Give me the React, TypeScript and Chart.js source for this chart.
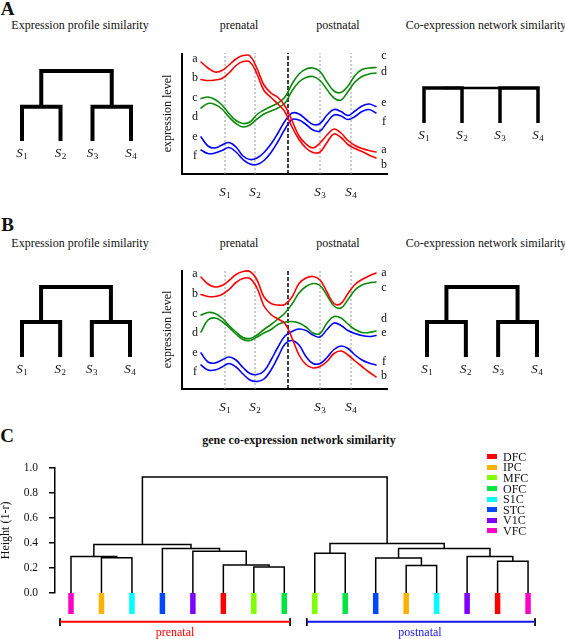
import React, { useEffect, useRef } from "react";
import { Chart, registerables } from "chart.js";

Chart.register(...registerables);

const SERIF = '"Liberation Serif", "Times New Roman", Times, serif';

// ---------------- Panels A / B : expression curves ----------------
const timePoints = [19, 26, 33, 40, 47, 54, 61, 68, 75, 82, 89, 96, 103, 110, 117, 124, 131, 138, 145, 152, 159, 166, 173, 180, 187, 194];
const sampleTimes = [43, 73, 138, 169];
const birthTime = 106;
const timeMax = 206;

const geneNames = ["a", "b", "c", "d", "e", "f"];

const curveA_a = [112, 106, 102, 103.5, 109, 115, 118.5, 118, 105.5, 89, 81, 76.5, 68, 53.5, 38, 30, 26, 31, 39, 45, 41, 33.5, 28.5, 25.5, 23.5, 22];
const curveA_b = [94.5, 93.5, 94, 95.5, 101, 108.5, 112.5, 112, 100, 83.5, 76.5, 70, 62, 47, 34.5, 26, 21.5, 22, 31.5, 40, 36.5, 29.5, 25.5, 22.5, 19, 16];
const curveA_c = [75.5, 77, 74.5, 69, 60.5, 53.5, 50.5, 52, 59.5, 64, 67.5, 71, 77, 90, 100, 105, 106, 102.5, 92, 83, 81.5, 88, 98.5, 104.5, 106, 106.5];
const curveA_d = [66, 70.5, 69.5, 65, 57, 50.5, 47, 49, 55, 60, 63, 66, 71, 83, 92, 96.5, 97.5, 93.5, 84.5, 76, 74, 82.5, 92, 97.5, 100, 101];
const curveA_e = [37, 28, 26, 29, 31.5, 27, 18, 14.5, 16, 21.5, 30, 41, 53, 61, 60, 54.5, 49.5, 50.5, 59, 64.5, 62.5, 58.5, 63, 68, 70, 67.5];
const curveA_f = [24, 20.5, 21, 23.5, 26.5, 22, 14.5, 10, 9.5, 13.5, 21.5, 32.5, 45, 54.5, 54, 49.5, 44, 43, 51.5, 59, 58, 54.5, 57.5, 62.5, 64.5, 61];

const curveB_a = [112, 105, 102, 103.5, 108.5, 114.5, 117.5, 117.5, 109, 92, 85.5, 84, 84.5, 92, 105.5, 111, 112.5, 109, 97, 85.5, 85.5, 95.5, 104.5, 109.5, 113, 116];
const curveB_b = [94.5, 92.5, 92.5, 94.5, 99.5, 106.5, 110.5, 110.5, 101, 83, 74.5, 70, 65.5, 51, 34, 24.5, 21, 22.5, 27.5, 35.5, 38, 34, 28, 22.5, 17, 12];
const curveB_c = [74, 76.5, 75.5, 71, 63.5, 57, 51.5, 50.5, 54, 59.5, 64.5, 70, 76, 85, 96, 102.5, 105.5, 103.5, 93.5, 83, 81, 89.5, 99, 104, 106, 107];
const curveB_d = [57, 69, 71, 67.5, 61.5, 55, 49.5, 48.5, 52, 56, 59.5, 64.5, 67, 67.5, 66, 62, 56, 55.5, 66, 72.5, 71, 65, 59.5, 56.5, 56.5, 58];
const curveB_e = [36, 27, 26, 29, 32, 29, 21.5, 15.5, 14.5, 18, 29, 42, 53, 57.5, 60, 58.5, 54, 52, 59.5, 66, 63.5, 58.5, 55.5, 53.5, 52.5, 53.5];
const curveB_f = [24, 19, 19, 22, 25.5, 22, 15, 9, 7.5, 10, 19, 32, 45, 48.5, 44, 32.5, 25.5, 25.5, 31.5, 39.5, 43, 40.5, 34, 29, 26, 24];

// levels at which the gene letters a..f are written, left and right of the plot
const labelTimes = [13, 202];
const labelsA_left = [115, 96, 76, 57, 37, 18];
const labelsA_right = [24, 9, 118, 102, 71, 52];
const labelsB_left = [115.5, 95, 75, 56, 36.5, 17];
const labelsB_right = [116.5, 13.5, 101.5, 70.5, 56.5, 27.5];

// ---------------- Panels A / B : small dendrograms ----------------
const profileLeafPos = [1, 2.06, 2.94, 4];
const evenLeafPos = [1, 2, 3, 4];
const mergesA_profile = [[-1, -2, 1], [-3, -4, 1], [1, 2, 2.05]];
const mergesA_network = [[-1, -2, 1], [-3, -4, 1], [1, 2, 1]];
const mergesB_profile = [[-1, -2, 1], [-3, -4, 1], [1, 2, 2]];
const mergesB_network = [[-1, -2, 1], [-3, -4, 1], [1, 2, 2]];

// ---------------- Panel C ----------------
const regionNames = ["DFC", "IPC", "MFC", "OFC", "S1C", "STC", "V1C", "VFC"];
const regionColors = ["#ff0000", "#ffb300", "#80ff00", "#00e640", "#00ffff", "#0047ff", "#8000ff", "#ff00c8"];
const prenatalOrder = ["VFC", "IPC", "S1C", "STC", "V1C", "DFC", "MFC", "OFC"];
const postnatalOrder = ["MFC", "OFC", "STC", "IPC", "S1C", "V1C", "DFC", "VFC"];
// hclust-style merges: negative = leaf number, positive = earlier merge number; third = height (1-r)
const mergesC = [
  [-7, -8, 0.208],
  [-6, 1, 0.223],
  [-2, -3, 0.282],
  [-1, 3, 0.292],
  [-5, 2, 0.333],
  [-4, 5, 0.356],
  [4, 6, 0.387],
  [-12, -13, 0.22],
  [-15, -16, 0.254],
  [-11, 8, 0.28],
  [-14, 9, 0.292],
  [-9, -10, 0.318],
  [10, 11, 0.356],
  [12, 13, 0.395],
  [7, 14, 0.928],
];
const heightTicks = [0, 0.2, 0.4, 0.6, 0.8, 1.0];
const groupNames = ["prenatal", "postnatal"];
const groupColors = ["#ff0000", "#1515e6"];
const groupSpans = [[0.64, 8.19], [8.74, 16.23]];

const RED = "#ff0000";
const GREEN = "#0b8a0b";
const BLUE = "#0000ff";
const geneColors = [RED, RED, GREEN, GREEN, BLUE, BLUE];

// ---------------- helpers ----------------
type Rect = { left: number; right: number; top: number; bottom: number };
type Pad = { l: number; r: number; t: number; b: number };

function areaBox(rect: Rect, pad: Pad) {
  return {
    left: rect.left - pad.l,
    top: rect.top - pad.t,
    width: rect.right - rect.left + pad.l + pad.r,
    height: rect.bottom - rect.top + pad.t + pad.b,
    padding: { left: pad.l, right: pad.r, top: pad.t, bottom: pad.b },
  };
}

function baseOptions(padding: any, xMin: number, xMax: number, yMin: number, yMax: number) {
  return {
    responsive: false,
    animation: false,
    devicePixelRatio: 1,
    events: [],
    layout: { padding },
    plugins: { legend: { display: false }, tooltip: { enabled: false }, title: { display: false } },
    elements: {
      point: { radius: 0, hoverRadius: 0 },
      line: { tension: 0, borderCapStyle: "butt", borderJoinStyle: "miter", fill: false },
    },
    scales: {
      x: { type: "linear", display: false, min: xMin, max: xMax },
      y: { type: "linear", display: false, min: yMin, max: yMax },
    },
  };
}

const lineSet = (pts: any[], color: string, width: number, extra: any = {}) => ({
  data: pts,
  borderColor: color,
  borderWidth: width,
  pointRadius: 0,
  clip: false,
  tension: 0,
  fill: false,
  ...extra,
});

function dendroSegments(leafPos: number[], merges: number[][]) {
  const pos: number[] = [];
  const hts: number[] = [];
  const segs: { x: number; y: number }[][] = [];
  const child = (c: number) => (c < 0 ? { x: leafPos[-c - 1], h: 0 } : { x: pos[c - 1], h: hts[c - 1] });
  merges.forEach(([a, b, h]) => {
    const A = child(a);
    const B = child(b);
    segs.push([
      { x: A.x, y: A.h },
      { x: A.x, y: h },
      { x: B.x, y: h },
      { x: B.x, y: B.h },
    ]);
    pos.push((A.x + B.x) / 2);
    hts.push(h);
  });
  return segs;
}

function drawSLabel(ctx: CanvasRenderingContext2D, cx: number, cy: number, n: number) {
  ctx.save();
  ctx.fillStyle = "#111";
  ctx.textBaseline = "middle";
  ctx.textAlign = "left";
  ctx.font = `italic 13px ${SERIF}`;
  const w1 = ctx.measureText("S").width;
  ctx.font = `9px ${SERIF}`;
  const w2 = ctx.measureText(String(n)).width;
  const x0 = cx - (w1 + w2 + 0.5) / 2;
  ctx.font = `italic 13px ${SERIF}`;
  ctx.fillText("S", x0, cy);
  ctx.font = `9px ${SERIF}`;
  ctx.fillText(String(n), x0 + w1 + 0.5, cy + 3.5);
  ctx.restore();
}

function ChartBox({ box, make }: { box: any; make: () => any }) {
  const ref = useRef<HTMLCanvasElement | null>(null);
  useEffect(() => {
    if (!ref.current) return;
    const chart = new Chart(ref.current, make());
    return () => chart.destroy();
  }, []);
  return (
    <canvas
      ref={ref}
      width={box.width}
      height={box.height}
      style={{ position: "absolute", left: box.left, top: box.top, width: box.width, height: box.height }}
    />
  );
}

function DendroChart({ rect, leafPos, merges, yMax, width, topWidth }: any) {
  const box = areaBox(rect, { l: 10, r: 10, t: 6, b: 24 });
  const make = () => {
    const segs = dendroSegments(leafPos, merges);
    const datasets = segs.map((s, i) =>
      lineSet(s, "#000", i === segs.length - 1 && topWidth ? topWidth : width)
    );
    const labelPlugin = {
      id: "leafLabels",
      afterDraw(chart: any) {
        const { ctx, scales } = chart;
        leafPos.forEach((p: number, i: number) => {
          drawSLabel(ctx, scales.x.getPixelForValue(p), scales.y.getPixelForValue(0) + 12.5, i + 1);
        });
      },
    };
    return {
      type: "line",
      data: { datasets },
      options: baseOptions(box.padding, leafPos[0], leafPos[leafPos.length - 1], 0, yMax),
      plugins: [labelPlugin],
    };
  };
  return <ChartBox box={box} make={make} />;
}

function CurveChart({ rect, yMax, curves, leftLevels, rightLevels }: any) {
  const box = areaBox(rect, { l: 30, r: 15, t: 10, b: 30 });
  const make = () => {
    const datasets: any[] = [];
    curves.forEach((c: number[], i: number) => {
      datasets.push(
        lineSet(timePoints.map((t, k) => ({ x: t, y: c[k] })), geneColors[i], 1.6, {
          tension: 0.4,
          borderCapStyle: "round",
          borderJoinStyle: "round",
        })
      );
    });
    datasets.push(lineSet([{ x: birthTime, y: 0 }, { x: birthTime, y: yMax }], "#000", 1.5, { borderDash: [4, 2] }));
    sampleTimes.forEach((s) => {
      datasets.push(lineSet([{ x: s, y: 0 }, { x: s, y: yMax }], "#9a9a9a", 1, { borderDash: [2, 2] }));
    });
    datasets.push(lineSet([{ x: 0, y: yMax }, { x: 0, y: 0 }, { x: timeMax, y: 0 }], "#000", 2));
    const textPlugin = {
      id: "curveText",
      afterDraw(chart: any) {
        const { ctx, scales, chartArea } = chart;
        ctx.save();
        ctx.fillStyle = "#111";
        ctx.font = `12px ${SERIF}`;
        ctx.textAlign = "center";
        ctx.textBaseline = "middle";
        geneNames.forEach((g, i) => {
          ctx.fillText(g, scales.x.getPixelForValue(labelTimes[0]), scales.y.getPixelForValue(leftLevels[i]));
          ctx.fillText(g, scales.x.getPixelForValue(labelTimes[1]), scales.y.getPixelForValue(rightLevels[i]));
        });
        ctx.translate(chartArea.left - 14, (chartArea.top + chartArea.bottom) / 2);
        ctx.rotate(-Math.PI / 2);
        ctx.fillText("expression level", 0, 0);
        ctx.restore();
        sampleTimes.forEach((s, i) => drawSLabel(ctx, scales.x.getPixelForValue(s), chartArea.bottom + 18.5, i + 1));
      },
    };
    return {
      type: "line",
      data: { datasets },
      options: baseOptions(box.padding, 0, timeMax, 0, yMax),
      plugins: [textPlugin],
    };
  };
  return <ChartBox box={box} make={make} />;
}

function ClusterChart() {
  const box = { left: 0, top: 450, width: 565, height: 189 };
  const padding = { left: 0, right: 20, top: 13, bottom: 46 };
  const make = () => {
    const leaves = [...prenatalOrder, ...postnatalOrder];
    const leafPos = leaves.map((_, i) => i + 1);
    const segs = dendroSegments(leafPos, mergesC);
    const datasets: any[] = segs.map((s) => lineSet(s, "#000", 1.5));
    leaves.forEach((name, i) => {
      datasets.push(
        lineSet([{ x: leafPos[i], y: 0 }, { x: leafPos[i], y: -0.168 }], regionColors[regionNames.indexOf(name)], 5.5)
      );
    });
    groupSpans.forEach(([a, b], g) => {
      datasets.push(lineSet([{ x: a, y: -0.229 }, { x: b, y: -0.229 }], groupColors[g], 2));
      datasets.push(lineSet([{ x: a, y: -0.202 }, { x: a, y: -0.264 }], "#000", 1));
      datasets.push(lineSet([{ x: b, y: -0.202 }, { x: b, y: -0.264 }], "#000", 1));
    });
    const opts: any = baseOptions(padding, 0.475, 16.556, heightTicks[0], heightTicks[heightTicks.length - 1]);
    opts.scales.y = {
      type: "linear",
      display: true,
      min: heightTicks[0],
      max: heightTicks[heightTicks.length - 1],
      afterFit: (s: any) => {
        s.width = 55;
      },
      afterBuildTicks: (s: any) => {
        s.ticks = heightTicks.map((v) => ({ value: v }));
      },
      ticks: {
        callback: (v: any) => Number(v).toFixed(1),
        font: { family: SERIF, size: 11.5 },
        color: "#111",
        padding: 11,
      },
      grid: { display: true, drawOnChartArea: false, drawTicks: true, tickLength: 6, color: "#000", lineWidth: 1.5 },
      border: { display: true, color: "#000", width: 1.5 },
      title: {
        display: true,
        text: "Height (1-r)",
        font: { family: SERIF, size: 12, lineHeight: 1 },
        color: "#111",
        padding: { top: 0, bottom: 0 },
      },
    };
    return { type: "line", data: { datasets }, options: opts };
  };
  return <ChartBox box={box} make={make} />;
}

function T({ x, y, children, size = 12, bold = false, color = "#111", align = "center" }: any) {
  return (
    <div
      style={{
        position: "absolute",
        left: x,
        top: y,
        transform: align === "center" ? "translate(-50%, -50%)" : "translate(0, -50%)",
        font: `${bold ? "bold " : ""}${size}px ${SERIF}`,
        lineHeight: 1,
        color,
        whiteSpace: "nowrap",
      }}
    >
      {children}
    </div>
  );
}

export default function App() {
  return (
    <div
      style={{
        position: "fixed",
        left: 0,
        top: 0,
        width: 565,
        height: 639,
        background: "#fff",
        overflow: "hidden",
        fontFamily: SERIF,
      }}
    >
      <T x={7.5} y={8.3} size={19} bold>A</T>
      <T x={80} y={25.3}>Expression profile similarity</T>
      <T x={239} y={25.3}>prenatal</T>
      <T x={338} y={25.3}>postnatal</T>
      <T x={486} y={24.5}>Co-expression network similarity</T>

      <T x={7.5} y={223.5} size={19} bold>B</T>
      <T x={80} y={242.5}>Expression profile similarity</T>
      <T x={239} y={242.5}>prenatal</T>
      <T x={338} y={242.5}>postnatal</T>
      <T x={486} y={242.5}>Co-expression network similarity</T>

      <T x={7.2} y={435} size={19} bold>C</T>
      <T x={299} y={440} bold>gene co-expression network similarity</T>

      <DendroChart rect={{ left: 22, right: 131, top: 71, bottom: 141 }} leafPos={profileLeafPos} merges={mergesA_profile} yMax={2.05} width={4} />
      <DendroChart rect={{ left: 424, right: 538, top: 88, bottom: 123 }} leafPos={evenLeafPos} merges={mergesA_network} yMax={1} width={3.5} topWidth={2.5} />
      <DendroChart rect={{ left: 22, right: 130, top: 287, bottom: 357 }} leafPos={profileLeafPos} merges={mergesB_profile} yMax={2} width={4} />
      <DendroChart rect={{ left: 427, right: 537, top: 287, bottom: 357 }} leafPos={profileLeafPos} merges={mergesB_network} yMax={2} width={4} />

      <CurveChart
        rect={{ left: 182, right: 388, top: 53, bottom: 174 }}
        yMax={121}
        curves={[curveA_a, curveA_b, curveA_c, curveA_d, curveA_e, curveA_f]}
        leftLevels={labelsA_left}
        rightLevels={labelsA_right}
      />
      <CurveChart
        rect={{ left: 182, right: 388, top: 270, bottom: 389 }}
        yMax={119}
        curves={[curveB_a, curveB_b, curveB_c, curveB_d, curveB_e, curveB_f]}
        leftLevels={labelsB_left}
        rightLevels={labelsB_right}
      />

      <ClusterChart />

      {regionNames.map((n, i) => (
        <React.Fragment key={n}>
          <div
            style={{
              position: "absolute",
              left: 487,
              top: 456.7 + i * 10.6 - 2.5,
              width: 10,
              height: 5,
              background: regionColors[i],
            }}
          />
          <T x={503} y={456.7 + i * 10.6} align="left">{n}</T>
        </React.Fragment>
      ))}

      <T x={175} y={632} color={groupColors[0]}>{groupNames[0]}</T>
      <T x={420} y={632} color={groupColors[1]}>{groupNames[1]}</T>
    </div>
  );
}
